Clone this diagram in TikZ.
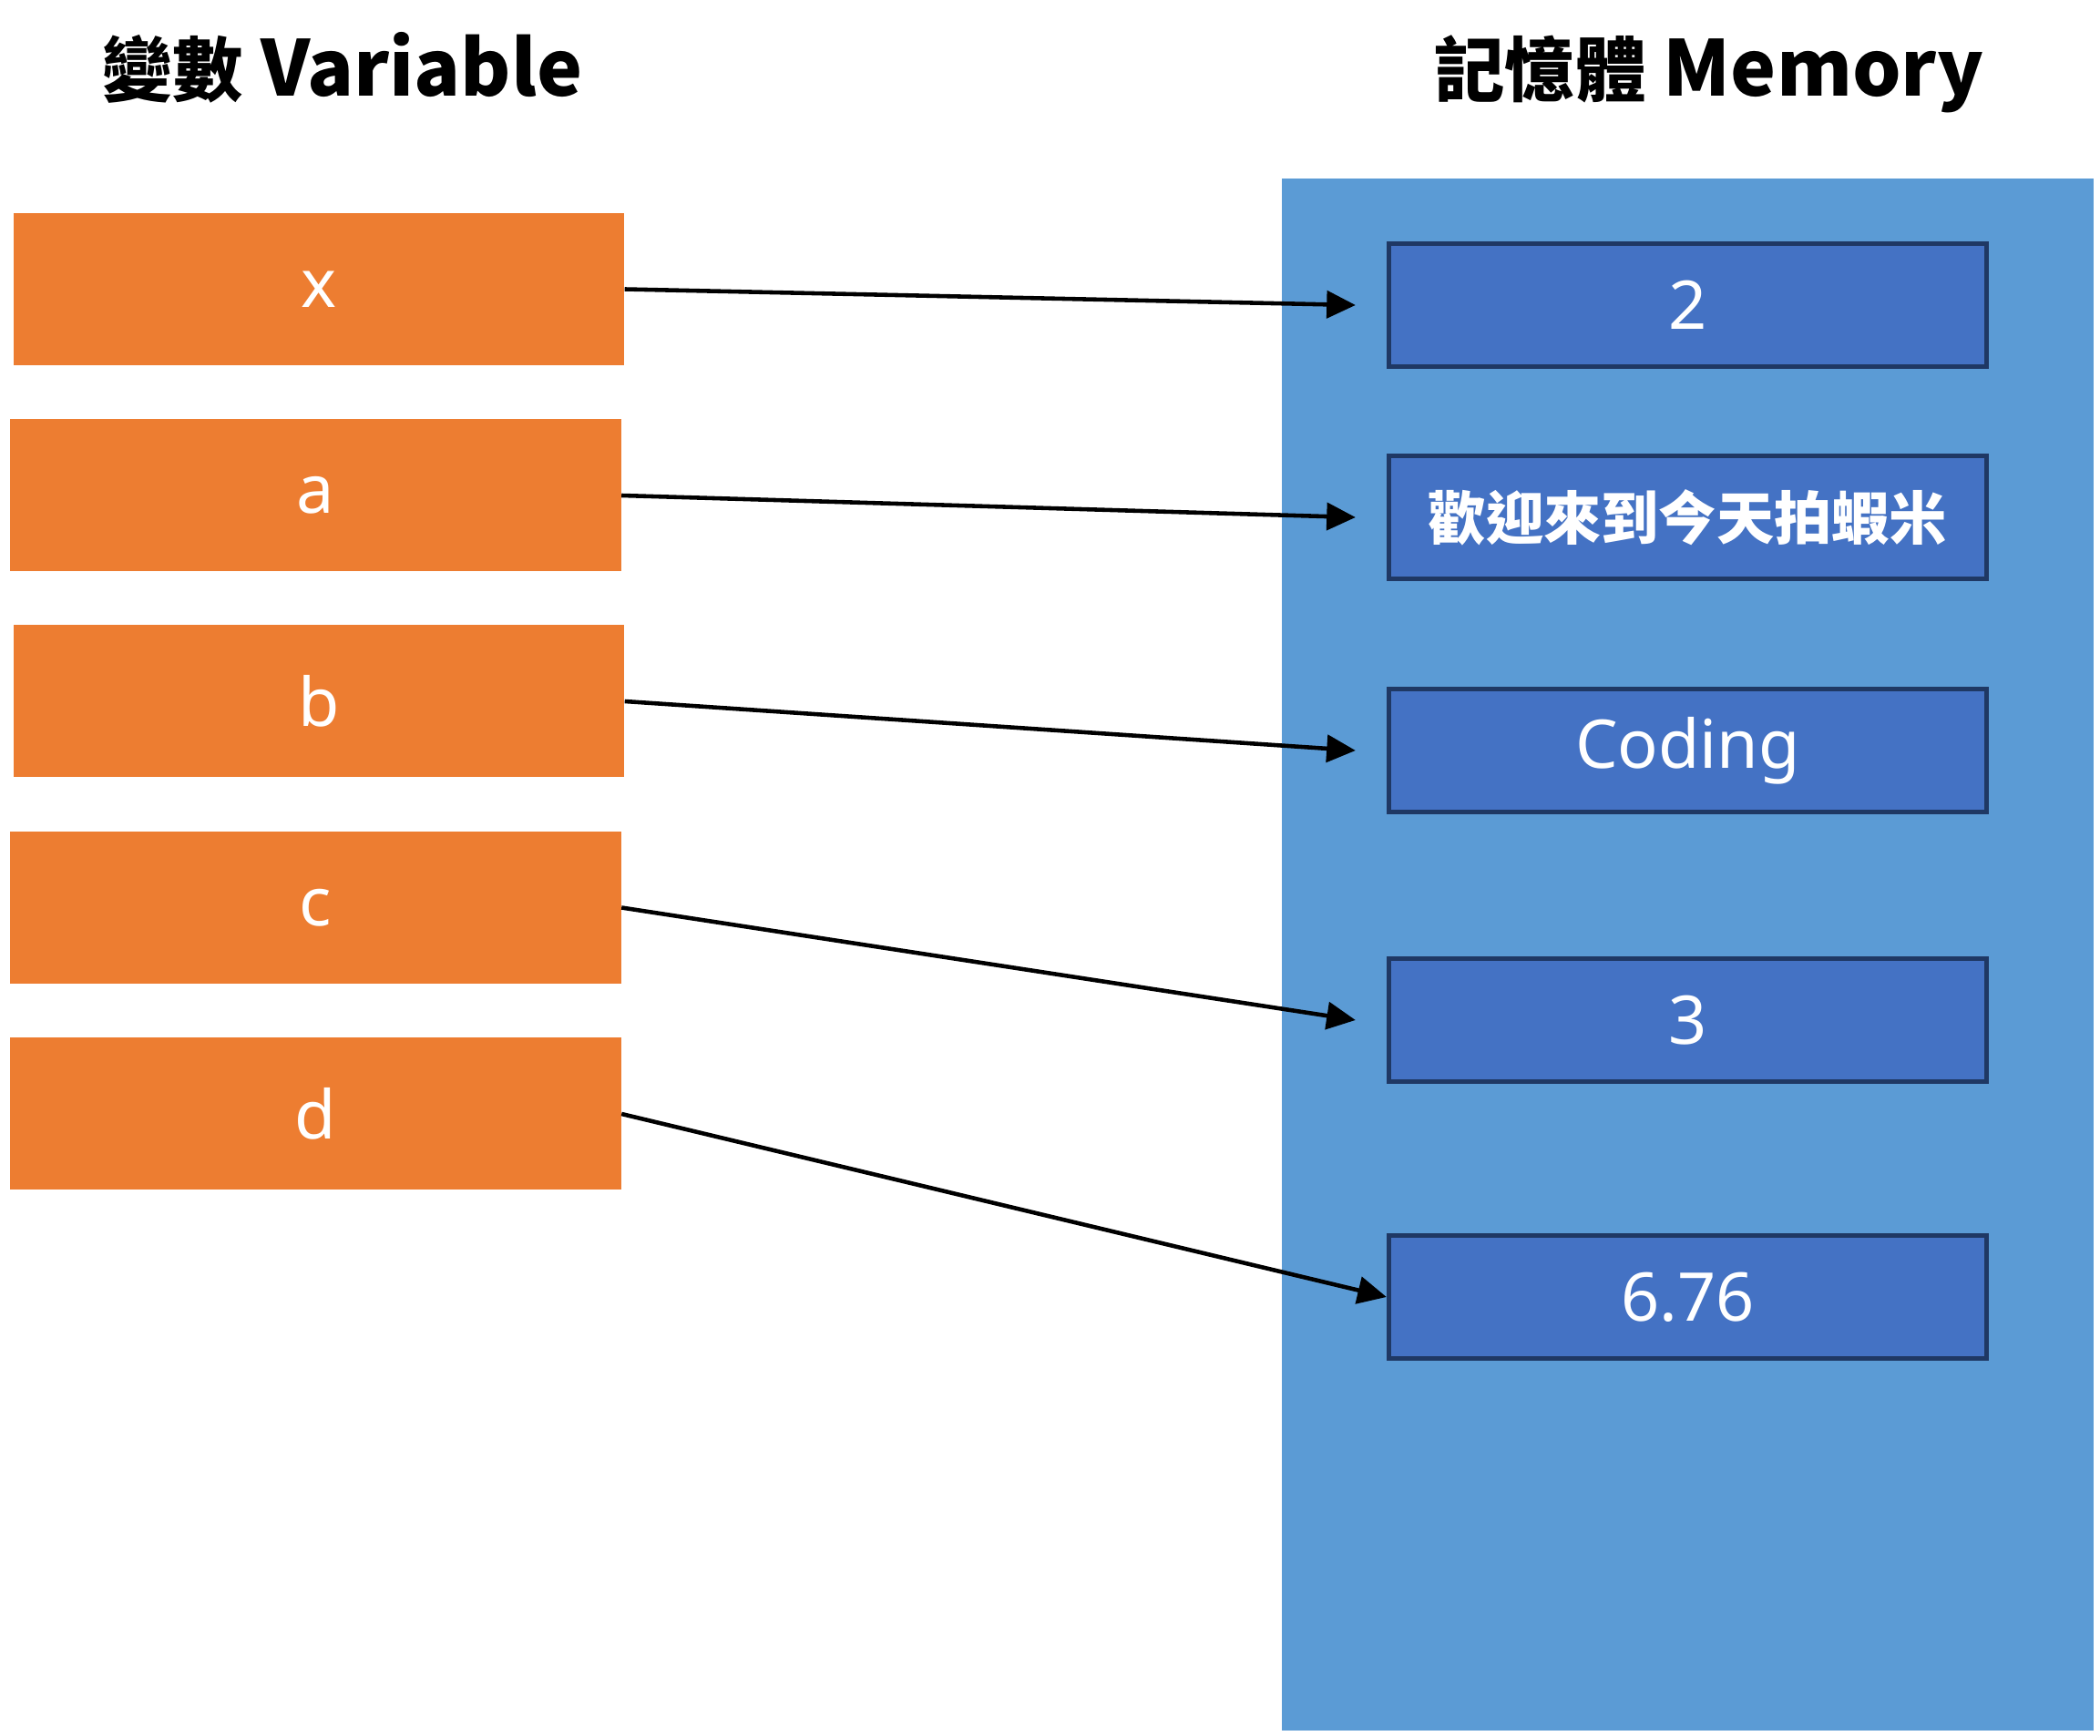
\documentclass[tikz,border=0pt]{standalone}
\usepackage{fontspec}
\setmainfont{Noto Sans}
\newfontfamily\cjk{Noto Sans CJK TC}
\usetikzlibrary{arrows.meta}

\definecolor{varorange}{HTML}{ED7D31}
\definecolor{memblue}{HTML}{5B9BD5}
\definecolor{cellblue}{HTML}{4472C4}
\definecolor{celledge}{HTML}{1F3864}

\begin{document}
\begin{tikzpicture}[
    varbox/.style={fill=varorange, inner sep=0pt, minimum width=6.70cm, minimum height=1.67cm,
        text=white, font=\fontsize{21}{25}\selectfont},
    cellbox/.style={fill=cellblue, draw=celledge, line width=1.5pt, inner sep=0pt,
        minimum width=6.56cm, minimum height=1.35cm, text=white, font=\fontsize{21}{25}\selectfont},
    title/.style={anchor=base, font=\cjk\bfseries\fontsize{24}{29}\selectfont},
    link/.style={-{Triangle[length=9pt,width=8.5pt]}, line width=1.3pt}
]
    \useasboundingbox (0,0) rectangle (23.05,-19.06);

    % headings
    \node[title] (vartitle) at (3.76,-1.06) {{\fontsize{22}{27}\selectfont 變數} Variable};
    \node[title] (memtitle) at (18.76,-1.06) {{\fontsize{22}{27}\selectfont 記憶體} Memory};

    % memory area
    \node[fill=memblue, inner sep=0pt, minimum width=8.91cm, minimum height=17.04cm] (mem) at (18.525,-10.48) {};

    % variables
    \node[varbox] (x) at (3.50,-3.175) {x};
    \node[varbox] (a) at (3.465,-5.44) {a};
    \node[varbox] (b) at (3.50,-7.70) {b};
    \node[varbox] (c) at (3.465,-9.965) {c};
    \node[varbox] (d) at (3.465,-12.23) {d};

    % memory cells
    \node[cellbox] (m1) at (18.525,-3.35) {2};
    \node[cellbox] (m2) at (18.525,-5.68) {\cjk\bfseries\fontsize{18}{22}\selectfont 歡迎來到今天拍蝦米};
    \node[cellbox] (m3) at (18.525,-8.24) {Coding};
    \node[cellbox] (m4) at (18.525,-11.20) {3};
    \node[cellbox] (m5) at (18.525,-14.24) {6.76};

    % arrow ends
    \coordinate (in1) at ([xshift=-0.34cm]m1.west);
    \coordinate (in2) at ([xshift=-0.34cm]m2.west);
    \coordinate (in3) at ([xshift=-0.34cm]m3.west);
    \coordinate (in4) at ([xshift=-0.34cm]m4.west);

    \draw[link] (x.east) -- (in1);
    \draw[link] (a.east) -- (in2);
    \draw[link] (b.east) -- (in3);
    \draw[link] (c.east) -- (in4);
    \draw[link] (d.east) -- (m5.west);
\end{tikzpicture}
\end{document}
